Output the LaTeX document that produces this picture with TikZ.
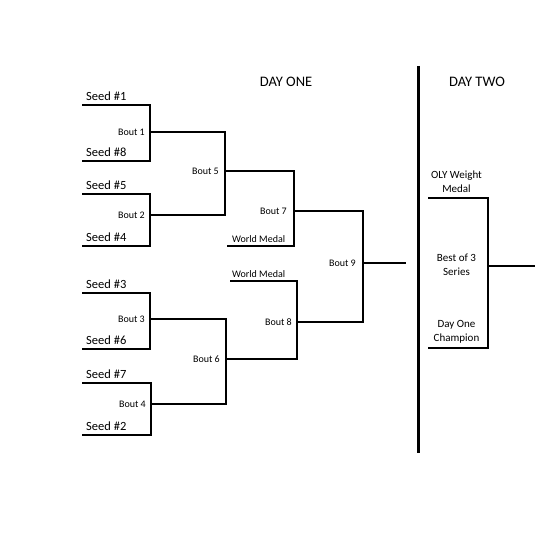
\documentclass[tikz,border=0pt]{standalone}
\usepackage{fontspec}
\setmainfont{Carlito}
\usetikzlibrary{positioning}
\begin{document}
\begin{tikzpicture}[x=1pt,y=-1pt]
\tikzstyle{every node}+=[inner sep=0pt]
\tikzstyle{bracket}=[black, line width=2pt]
\tikzstyle{divider}=[black, line width=2.7pt]
\tikzstyle{seedlabel}=[font=\fontsize{12.5}{14}\selectfont]
\tikzstyle{boutlabel}=[font=\fontsize{10}{12}\selectfont]
\tikzstyle{daylabel}=[font=\fontsize{14.5}{17}\selectfont]
\tikzstyle{finallabel}=[font=\fontsize{11}{14}\selectfont, align=center]
\useasboundingbox (0,0) rectangle (546,535);
% seed lines
\coordinate (s1) at (82,105);
\coordinate (s8) at (82,161);
\coordinate (s5) at (82,194);
\coordinate (s4) at (82,246);
\coordinate (s3) at (82,293);
\coordinate (s6) at (82,349);
\coordinate (s7) at (82,383);
\coordinate (s2) at (82,435);
% bout corners
\coordinate (b1) at (150,132);
\coordinate (b2) at (150,215);
\coordinate (b3) at (150,319);
\coordinate (b4) at (151,404);
\coordinate (b5) at (225,171);
\coordinate (b6) at (226,359);
\coordinate (b7) at (294,211);
\coordinate (b8) at (297,322);
\coordinate (b9) at (363,263);
\coordinate (out9) at (406,263);
\coordinate (wm7) at (227,246);
\coordinate (wm8) at (230,281);
% day two
\coordinate (d1) at (418.5,66);
\coordinate (d2) at (418.5,453);
\coordinate (oly) at (428,198);
\coordinate (champ) at (428,348);
\coordinate (f) at (488,266);
\coordinate (fout) at (535,266);

\draw [bracket] (s1) -| (b1) |- (s8);
\draw [bracket] (s5) -| (b2) |- (s4);
\draw [bracket] (s3) -| (b3) |- (s6);
\draw [bracket] (s7) -| (b4) |- (s2);
\draw [bracket] (b1) -| (b5) |- (b2);
\draw [bracket] (b3) -| (b6) |- (b4);
\draw [bracket] (b5) -| (b7) |- (wm7);
\draw [bracket] (b6) -| (b8) |- (wm8);
\draw [bracket] (b7) -| (b9) |- (b8);
\draw [bracket] (b9) -- (out9);
\draw [divider] (d1) -- (d2);
\draw [bracket] (oly) -| (f) |- (champ);
\draw [bracket] (f) -- (fout);

\node [seedlabel, above right=4pt and 4pt of s1] (ls1) {Seed \#1};
\node [seedlabel, above right=4pt and 4pt of s8] (ls8) {Seed \#8};
\node [seedlabel, above right=4pt and 4pt of s5] (ls5) {Seed \#5};
\node [seedlabel, above right=4pt and 4pt of s4] (ls4) {Seed \#4};
\node [seedlabel, above right=4pt and 4pt of s3] (ls3) {Seed \#3};
\node [seedlabel, above right=4pt and 4pt of s6] (ls6) {Seed \#6};
\node [seedlabel, above right=4pt and 4pt of s7] (ls7) {Seed \#7};
\node [seedlabel, above right=4pt and 4pt of s2] (ls2) {Seed \#2};

\node [boutlabel, left=5pt of b1] (lb1) {Bout 1};
\node [boutlabel, left=5pt of b2] (lb2) {Bout 2};
\node [boutlabel, left=5pt of b3] (lb3) {Bout 3};
\node [boutlabel, left=5pt of b4] (lb4) {Bout 4};
\node [boutlabel, left=6pt of b5] (lb5) {Bout 5};
\node [boutlabel, left=6pt of b6] (lb6) {Bout 6};
\node [boutlabel, left=7pt of b7] (lb7) {Bout 7};
\node [boutlabel, left=5pt of b8] (lb8) {Bout 8};
\node [boutlabel, left=7pt of b9] (lb9) {Bout 9};
\node [boutlabel, above right=3pt and 5pt of wm7] (lwm7) {World Medal};
\node [boutlabel, above right=3pt and 2pt of wm8] (lwm8) {World Medal};

\node [daylabel] (dayone) at (286,81.5) {DAY ONE};
\node [daylabel] (daytwo) at (477,81.5) {DAY TWO};
\node [finallabel] (loly) at (456.5,182) {OLY Weight\\Medal};
\node [finallabel] (lbest) at (456.5,265) {Best of 3\\Series};
\node [finallabel] (lchamp) at (456.5,332) {Day One\\Champion};
\end{tikzpicture}
\end{document}
